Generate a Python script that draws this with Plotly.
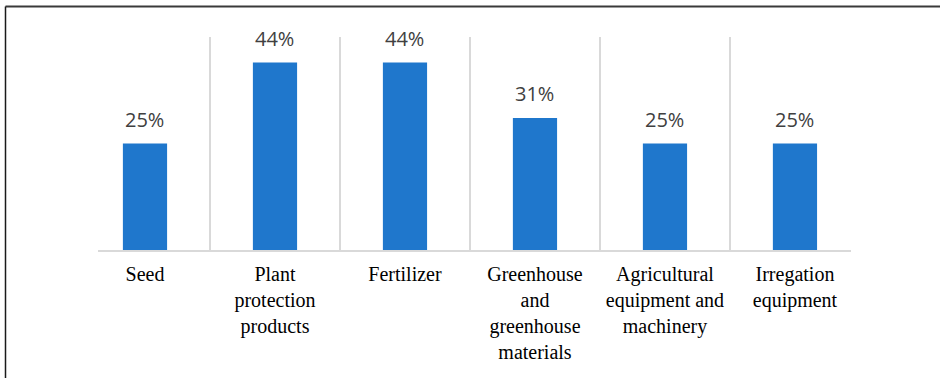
import plotly.graph_objects as go

# Share of respondents by input category
categories = [
    "Seed",
    "Plant<br>protection<br>products",
    "Fertilizer",
    "Greenhouse<br>and<br>greenhouse<br>materials",
    "Agricultural<br>equipment and<br>machinery",
    "Irregation<br>equipment",
]
values = [25, 44, 44, 31, 25, 25]

positions = list(range(len(categories)))
separators = [p + 0.5 for p in positions[:-1]]

W, H = 940, 378
plot_left, plot_right = 98, 851
plot_top, plot_bottom = 37, 250

fig = go.Figure(
    go.Bar(
        x=positions,
        y=values,
        width=0.34,
        marker=dict(color="#1F77CC", line=dict(width=0)),
        hoverinfo="skip",
    )
)

# Value labels above each bar
for x, v in zip(positions, values):
    fig.add_annotation(
        x=x, y=v, text=f"{v}%", showarrow=False,
        yanchor="bottom", yshift=9,
        font=dict(family="Open Sans", size=20, color="#404040"),
    )

# Outer frame lines (top and left edges)
pw = plot_right - plot_left
ph = plot_bottom - plot_top
fx = (5.5 - plot_left) / pw
fy = 1 + (plot_top - 6.5) / ph
fig.add_shape(type="line", xref="paper", yref="paper",
              x0=fx, x1=(W + 5 - plot_left) / pw, y0=fy, y1=fy,
              line=dict(color="#3a3a3a", width=2))
fig.add_shape(type="line", xref="paper", yref="paper",
              x0=fx, x1=fx, y0=fy, y1=-(H + 5 - plot_bottom) / ph,
              line=dict(color="#1a1a1a", width=1.5))

fig.update_layout(
    width=W, height=H,
    margin=dict(l=plot_left, r=W - plot_right, t=plot_top, b=H - plot_bottom, pad=0),
    paper_bgcolor="white",
    plot_bgcolor="white",
    showlegend=False,
    font=dict(family="Times New Roman, Liberation Serif, DejaVu Serif, serif"),
    xaxis=dict(
        range=[-0.3615, 5.431],
        tickmode="array",
        tickvals=positions,
        ticktext=categories,
        ticks="",
        showgrid=False,
        zeroline=False,
        showline=True,
        linecolor="#d9d9d9",
        linewidth=2,
        ticklabelstandoff=5,
        tickfont=dict(family="Times New Roman, Liberation Serif, DejaVu Serif, serif",
                      size=20, color="#000000"),
        minor=dict(tickmode="array", tickvals=separators, showgrid=True,
                   gridcolor="#d9d9d9", gridwidth=2, ticks=""),
        fixedrange=True,
    ),
    yaxis=dict(
        range=[0, 50],
        visible=False,
        showgrid=False,
        zeroline=False,
        fixedrange=True,
    ),
)

fig.write_html("out.html")
